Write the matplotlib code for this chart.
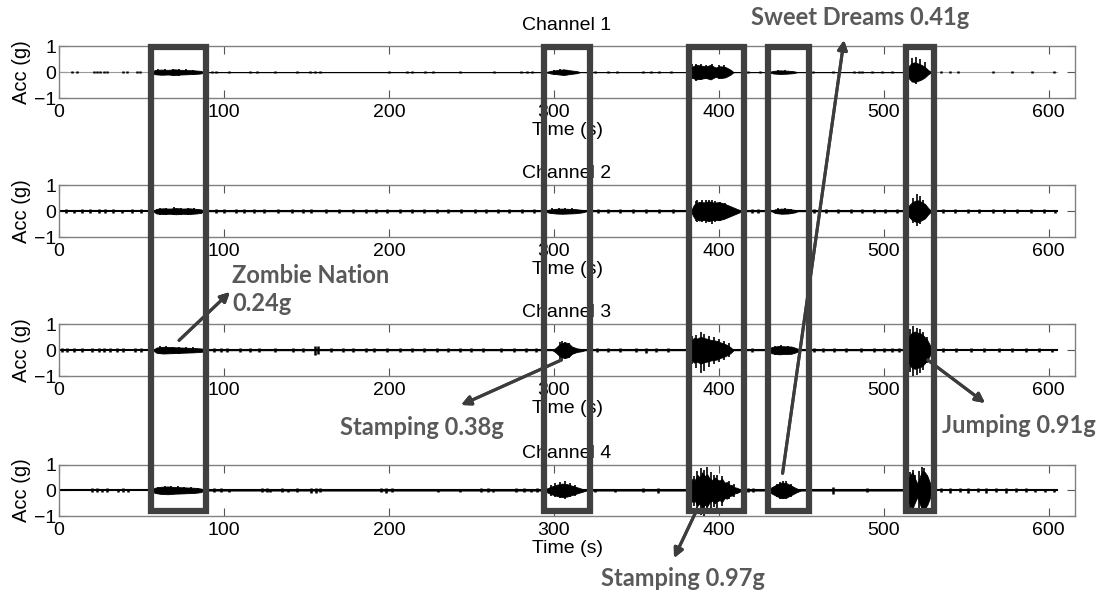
import matplotlib
matplotlib.use("Agg")
import matplotlib.pyplot as plt
from matplotlib.patches import Rectangle
from matplotlib import transforms

plt.rcParams['font.family'] = ['Liberation Sans', 'DejaVu Sans']

# recording length and axes
t_end = 605
x_lim = (0, 616)
x_ticks = [0, 100, 200, 300, 400, 500, 600]
y_ticks = [-1, 0, 1]
titles = ["Channel 1", "Channel 2", "Channel 3", "Channel 4"]

# burst envelopes: knot times (s) and half amplitude (g)
ch1_env_t = [56, 58, 62, 66, 70, 74, 78, 82, 86, 88,
             295, 298, 302, 306, 310, 314, 316,
             381, 383, 386, 389, 392, 395, 398, 401, 404, 407, 409,
             430, 433, 437, 441, 445, 448,
             513, 515, 517, 519, 521, 523, 525, 527, 529]
ch1_env_a = [0, 0.08, 0.1, 0.09, 0.11, 0.09, 0.08, 0.07, 0.05, 0,
             0, 0.05, 0.08, 0.11, 0.07, 0.04, 0,
             0, 0.18, 0.28, 0.26, 0.22, 0.28, 0.18, 0.23, 0.2, 0.1, 0,
             0, 0.05, 0.07, 0.06, 0.04, 0,
             0, 0.22, 0.36, 0.38, 0.33, 0.28, 0.2, 0.08, 0]
ch1_spk_t = [60, 64, 69, 73, 77, 81, 300, 304, 308, 384, 386, 389, 392, 396, 400,
             403, 436, 440, 517, 519.5, 522, 525]
ch1_spk_hi = [0.12, 0.13, 0.14, 0.12, 0.11, 0.1, 0.1, 0.13, 0.1, 0.3, 0.33, 0.3,
              0.27, 0.32, 0.28, 0.26, 0.09, 0.09, 0.55, 0.6, 0.5, 0.4]
ch1_spk_lo = [-0.12, -0.12, -0.13, -0.13, -0.11, -0.1, -0.1, -0.12, -0.1, -0.28,
              -0.33, -0.3, -0.26, -0.28, -0.25, -0.24, -0.08, -0.09, -0.3, -0.45,
              -0.35, -0.2]
ch1_blip_t = [8, 11, 21, 23, 25, 27, 29, 39, 41, 47, 49, 93, 95, 103, 116, 120,
              131, 144, 152, 155, 158, 200, 211, 214, 222, 227, 243, 264, 280,
              284, 287, 325, 333, 338, 354, 359, 364, 371, 418, 425, 457, 469,
              482, 485, 487, 493, 499, 505, 535, 540, 545, 566, 578, 590, 603]
ch1_blip_a = [0.03, 0.03, 0.05, 0.05, 0.04, 0.05, 0.04, 0.04, 0.04, 0.04, 0.04,
              0.05, 0.05, 0.04, 0.04, 0.04, 0.04, 0.04, 0.05, 0.05, 0.04, 0.04,
              0.04, 0.04, 0.04, 0.04, 0.04, 0.03, 0.04, 0.04, 0.04, 0.04, 0.04,
              0.04, 0.04, 0.04, 0.04, 0.04, 0.04, 0.04, 0.04, 0.05, 0.04, 0.04,
              0.04, 0.04, 0.04, 0.04, 0.04, 0.04, 0.04, 0.04, 0.04, 0.04, 0.04]

ch2_env_t = [57, 59, 63, 67, 71, 75, 79, 83, 86, 88,
             294, 297, 301, 305, 309, 313, 317, 320,
             383, 385, 388, 391, 394, 397, 400, 403, 406, 409, 412, 414,
             432, 434, 438, 442, 446, 448,
             513, 515, 517, 519, 521, 523, 525, 527, 529]
ch2_env_a = [0, 0.09, 0.11, 0.1, 0.12, 0.1, 0.11, 0.09, 0.07, 0,
             0, 0.06, 0.09, 0.1, 0.09, 0.08, 0.05, 0,
             0, 0.25, 0.36, 0.34, 0.38, 0.33, 0.35, 0.3, 0.22, 0.14, 0.06, 0,
             0, 0.07, 0.1, 0.09, 0.05, 0,
             0, 0.2, 0.33, 0.4, 0.42, 0.35, 0.28, 0.12, 0]
ch2_spk_t = [61, 65, 70, 74, 78, 82, 299, 303, 307, 311, 386, 387, 390, 392, 394,
             396, 398, 401, 404, 436, 440, 444, 518, 520, 522, 524]
ch2_spk_hi = [0.13, 0.14, 0.15, 0.13, 0.14, 0.11, 0.11, 0.12, 0.13, 0.11, 0.4, 0.42,
              0.44, 0.45, 0.42, 0.43, 0.4, 0.36, 0.32, 0.11, 0.12, 0.1, 0.5, 0.68,
              0.6, 0.45]
ch2_spk_lo = [-0.13, -0.14, -0.14, -0.13, -0.13, -0.11, -0.1, -0.12, -0.12, -0.1,
              -0.38, -0.4, -0.42, -0.45, -0.43, -0.5, -0.42, -0.38, -0.3, -0.11,
              -0.12, -0.1, -0.45, -0.57, -0.5, -0.35]
ch2_blip_t = [4, 9, 14, 19, 24, 28, 33, 38, 44, 50, 95, 100, 107, 112, 118, 124,
              133, 141, 148, 153, 162, 170, 178, 186, 192, 199, 207, 214, 221,
              229, 236, 244, 252, 259, 266, 273, 281, 288, 327, 333, 340, 348,
              356, 364, 372, 420, 424, 458, 465, 472, 480, 487, 494, 501, 508,
              536, 543, 551, 558, 566, 573, 581, 589, 597, 604]
ch2_blip_a = [0.07, 0.06, 0.07, 0.07, 0.08, 0.07, 0.07, 0.06, 0.07, 0.07, 0.07,
              0.08, 0.07, 0.07, 0.07, 0.07, 0.07, 0.08, 0.09, 0.07, 0.07, 0.07,
              0.08, 0.07, 0.07, 0.08, 0.07, 0.07, 0.08, 0.07, 0.07, 0.08, 0.07,
              0.08, 0.07, 0.07, 0.07, 0.08, 0.07, 0.07, 0.08, 0.07, 0.07, 0.08,
              0.07, 0.07, 0.07, 0.07, 0.08, 0.07, 0.08, 0.07, 0.08, 0.07, 0.08,
              0.07, 0.08, 0.07, 0.07, 0.08, 0.07, 0.07, 0.08, 0.07, 0.06]

ch3_env_t = [57, 59, 63, 67, 71, 75, 79, 83, 87, 89,
             299, 301, 303, 305, 307, 309, 311, 314, 317, 319,
             381, 383, 385, 387, 389, 391, 393, 395, 397, 399, 401, 403, 405, 407, 409,
             430, 432, 436, 440, 444, 447, 449,
             513, 514.5, 516, 517.5, 519, 520.5, 522, 523.5, 525, 526.5, 528, 529]
ch3_env_a = [0, 0.1, 0.13, 0.12, 0.11, 0.1, 0.09, 0.08, 0.06, 0,
             0, 0.08, 0.2, 0.28, 0.3, 0.26, 0.14, 0.07, 0.04, 0,
             0, 0.35, 0.48, 0.45, 0.52, 0.47, 0.44, 0.4, 0.38, 0.36, 0.3, 0.26,
             0.2, 0.12, 0,
             0, 0.12, 0.16, 0.15, 0.14, 0.08, 0,
             0, 0.35, 0.6, 0.7, 0.72, 0.68, 0.66, 0.6, 0.5, 0.38, 0.2, 0]
ch3_spk_t = [61, 65, 69, 73, 77, 81, 304, 305, 307, 309, 384, 386, 389, 391, 394,
             397, 400, 403, 406, 434, 438, 442, 516, 518, 520, 522, 524, 526]
ch3_spk_hi = [0.15, 0.16, 0.14, 0.13, 0.12, 0.11, 0.32, 0.36, 0.3, 0.28, 0.55, 0.6,
              0.7, 0.62, 0.55, 0.5, 0.42, 0.36, 0.26, 0.18, 0.19, 0.17, 0.8, 0.92,
              0.85, 0.8, 0.7, 0.5]
ch3_spk_lo = [-0.15, -0.15, -0.14, -0.13, -0.12, -0.1, -0.35, -0.4, -0.35, -0.3,
              -0.55, -0.7, -0.9, -0.8, -0.65, -0.55, -0.45, -0.38, -0.25, -0.18,
              -0.18, -0.16, -0.85, -1.0, -0.95, -0.9, -0.75, -0.5]
ch3_blip_t = [2, 5, 9, 14, 20, 24, 27, 31, 35, 39, 46, 50, 94, 98, 102, 110, 116,
              121, 131, 142, 148, 155, 157, 165, 172, 178, 186, 191, 199, 207,
              214, 221, 229, 236, 243, 250, 257, 268, 276, 283, 289, 326, 333,
              340, 350, 356, 362, 369, 416, 420, 458, 463, 470, 477, 486, 494,
              500, 505, 509, 536, 544, 553, 561, 570, 578, 586, 594, 602]
ch3_blip_a = [0.07, 0.07, 0.08, 0.07, 0.07, 0.08, 0.07, 0.07, 0.08, 0.07, 0.07,
              0.08, 0.08, 0.07, 0.07, 0.08, 0.07, 0.07, 0.08, 0.07, 0.08, 0.18,
              0.15, 0.07, 0.08, 0.07, 0.07, 0.08, 0.07, 0.07, 0.08, 0.07, 0.07,
              0.08, 0.07, 0.08, 0.07, 0.08, 0.07, 0.07, 0.07, 0.08, 0.07, 0.08,
              0.09, 0.1, 0.08, 0.08, 0.08, 0.09, 0.08, 0.07, 0.09, 0.08, 0.08,
              0.07, 0.08, 0.08, 0.07, 0.07, 0.08, 0.08, 0.07, 0.08, 0.07, 0.08,
              0.07, 0.06]

ch4_env_t = [56, 58, 62, 66, 70, 74, 78, 82, 86, 88,
             294, 296, 299, 302, 305, 308, 311, 314, 317, 320,
             381, 382.5, 384, 385.5, 387, 388.5, 390, 391.5, 393, 394.5, 396,
             397.5, 399, 400.5, 402, 403.5, 405, 406.5, 408, 409.5, 411, 413, 414,
             430, 432, 435, 438, 441, 444, 447, 450,
             513, 514.5, 516, 517.5, 519, 520.5, 522, 523.5, 525, 526.5, 528, 529]
ch4_env_a = [0, 0.1, 0.14, 0.15, 0.13, 0.12, 0.11, 0.1, 0.07, 0,
             0, 0.08, 0.16, 0.22, 0.26, 0.24, 0.18, 0.12, 0.06, 0,
             0, 0.25, 0.45, 0.4, 0.6, 0.5, 0.7, 0.55, 0.62, 0.45, 0.4,
             0.5, 0.42, 0.38, 0.45, 0.3, 0.32, 0.22, 0.2, 0.12, 0.1, 0.04, 0,
             0, 0.12, 0.22, 0.3, 0.28, 0.18, 0.08, 0,
             0, 0.3, 0.6, 0.7, 0.45, 0.25, 0.55, 0.75, 0.7, 0.55, 0.3, 0]
ch4_spk_t = [60, 64, 68, 72, 76, 80, 84, 298, 301, 304, 307, 310, 313, 385, 387,
             389, 391, 393, 395, 397, 399, 402, 406, 409, 435, 437, 439, 441, 444,
             516, 517.5, 519, 521.5, 523, 524.5, 526]
ch4_spk_hi = [0.14, 0.16, 0.17, 0.15, 0.14, 0.13, 0.11, 0.22, 0.28, 0.32, 0.35,
              0.28, 0.2, 0.55, 0.75, 0.88, 0.8, 0.92, 0.7, 0.58, 0.6, 0.55, 0.35,
              0.25, 0.26, 0.33, 0.38, 0.35, 0.26, 0.7, 0.8, 0.6, 0.75, 0.92, 0.85,
              0.6]
ch4_spk_lo = [-0.14, -0.16, -0.16, -0.15, -0.14, -0.12, -0.1, -0.2, -0.26, -0.3,
              -0.35, -0.25, -0.2, -0.6, -0.85, -0.95, -1.0, -0.9, -0.7, -0.65,
              -0.75, -0.6, -0.35, -0.25, -0.25, -0.32, -0.35, -0.32, -0.24, -0.75,
              -0.85, -0.5, -0.8, -0.9, -0.85, -0.55]
ch4_blip_t = [20, 23, 26, 29, 36, 39, 42, 94, 98, 103, 123, 126, 128, 135, 139,
              144, 153, 156, 158, 195, 198, 202, 230, 243, 256, 260, 263, 277,
              282, 286, 290, 325, 337, 354, 363, 418, 421, 469, 490, 535, 540,
              546, 551, 557, 562, 568, 574, 580, 586, 592, 598, 603]
ch4_blip_a = [0.08, 0.08, 0.07, 0.08, 0.07, 0.08, 0.07, 0.08, 0.08, 0.07, 0.08,
              0.08, 0.07, 0.08, 0.07, 0.08, 0.09, 0.09, 0.08, 0.08, 0.09, 0.08,
              0.07, 0.07, 0.08, 0.08, 0.07, 0.08, 0.08, 0.07, 0.08, 0.07, 0.07,
              0.08, 0.1, 0.08, 0.08, 0.13, 0.08, 0.08, 0.09, 0.08, 0.09, 0.08,
              0.09, 0.08, 0.09, 0.08, 0.08, 0.07, 0.07, 0.06]

env_t = [ch1_env_t, ch2_env_t, ch3_env_t, ch4_env_t]
env_a = [ch1_env_a, ch2_env_a, ch3_env_a, ch4_env_a]
spk_t = [ch1_spk_t, ch2_spk_t, ch3_spk_t, ch4_spk_t]
spk_hi = [ch1_spk_hi, ch2_spk_hi, ch3_spk_hi, ch4_spk_hi]
spk_lo = [ch1_spk_lo, ch2_spk_lo, ch3_spk_lo, ch4_spk_lo]
blip_t = [ch1_blip_t, ch2_blip_t, ch3_blip_t, ch4_blip_t]
blip_a = [ch1_blip_a, ch2_blip_a, ch3_blip_a, ch4_blip_a]

# highlighted activity windows (s)
box_start = [55.8, 294, 381.7, 429.6, 513.3]
box_end = [89.2, 322, 415, 454.5, 530.3]

# callouts: text, channel index of the arrow tail, tail point (s, g)
call_text = ["Zombie Nation\n0.24g", "Stamping 0.38g", "Sweet Dreams 0.41g",
             "Jumping 0.91g", "Stamping 0.97g"]
call_ch = [2, 2, 3, 2, 3]
call_tail = [(72.8, 0.38), (304.6, -0.38), (438.7, 0.66), (526.7, -0.38), (386, -0.85)]
call_head = [(0.2093, 0.5084), (0.4195, 0.3182), (0.768, 0.9327), (0.8963, 0.3215),
             (0.6133, 0.0606)]
call_pos = [(0.2111, 0.512), (0.384, 0.2811), (0.7825, 0.9697), (0.9272, 0.2845),
            (0.6215, 0.0269)]
call_ha = ["left", "center", "center", "center", "center"]

fig = plt.figure(figsize=(10.99, 5.94), dpi=100)
bottoms = [0.835, 0.601, 0.367, 0.131]
axes = []
for i in range(4):
    ax = fig.add_axes([0.0537, bottoms[i], 0.9245, 0.087])
    ax.plot([0, t_end], [0, 0], color="#9a9a9a" if i == 0 else "black",
            lw=0.8 if i == 0 else 1.5, zorder=2)
    ax.fill_between(env_t[i], [-a for a in env_a[i]], env_a[i], color="black",
                    lw=0.6, zorder=3)
    ax.vlines(spk_t[i], spk_lo[i], spk_hi[i], color="black", lw=1.2, zorder=3)
    ax.vlines(blip_t[i], [-a for a in blip_a[i]], blip_a[i], color="black",
              lw=1.8, zorder=3)
    ax.set_xlim(*x_lim)
    ax.set_ylim(-1, 1)
    ax.set_xticks(x_ticks)
    ax.set_yticks(y_ticks)
    ax.tick_params(direction="in", length=6, width=0.8, color="#555555",
                   top=True, right=True, labelsize=14, pad=4)
    ax.tick_params(axis="y", pad=2)
    for s in ax.spines.values():
        s.set_color("#808080")
        s.set_linewidth(1.0)
    ax.set_ylabel("Acc (g)", fontsize=14.5, labelpad=2)
    ax.set_xlabel("Time (s)", fontsize=14, labelpad=1)
    ax.set_title(titles[i], fontsize=14, pad=12 if i == 0 else 5)
    axes.append(ax)

# boxes span all four channels
trans = transforms.blended_transform_factory(axes[3].transData, fig.transFigure)
for t0, t1 in zip(box_start, box_end):
    fig.patches.append(Rectangle((t0, 0.140), t1 - t0, 0.781, transform=trans,
                                 fill=False, ec="#404040", lw=4.5, zorder=10))

for txt, ch, tail, head, pos, ha in zip(call_text, call_ch, call_tail, call_head,
                                          call_pos, call_ha):
    fig.add_artist(axes[ch].annotate("", xy=head, xycoords=fig.transFigure,
                                     xytext=tail, textcoords="data",
                                     arrowprops=dict(arrowstyle="-|>", color="#3c3c3c",
                                                     lw=2.2, mutation_scale=14,
                                                     shrinkA=0, shrinkB=0),
                                     annotation_clip=False))
    fig.text(pos[0], pos[1], txt, ha=ha, va="center", fontsize=17,
             fontweight="bold", family=["Lato", "DejaVu Sans"], color="#595959",
             linespacing=1.25, zorder=11)

fig.savefig("out.png", dpi=100)
